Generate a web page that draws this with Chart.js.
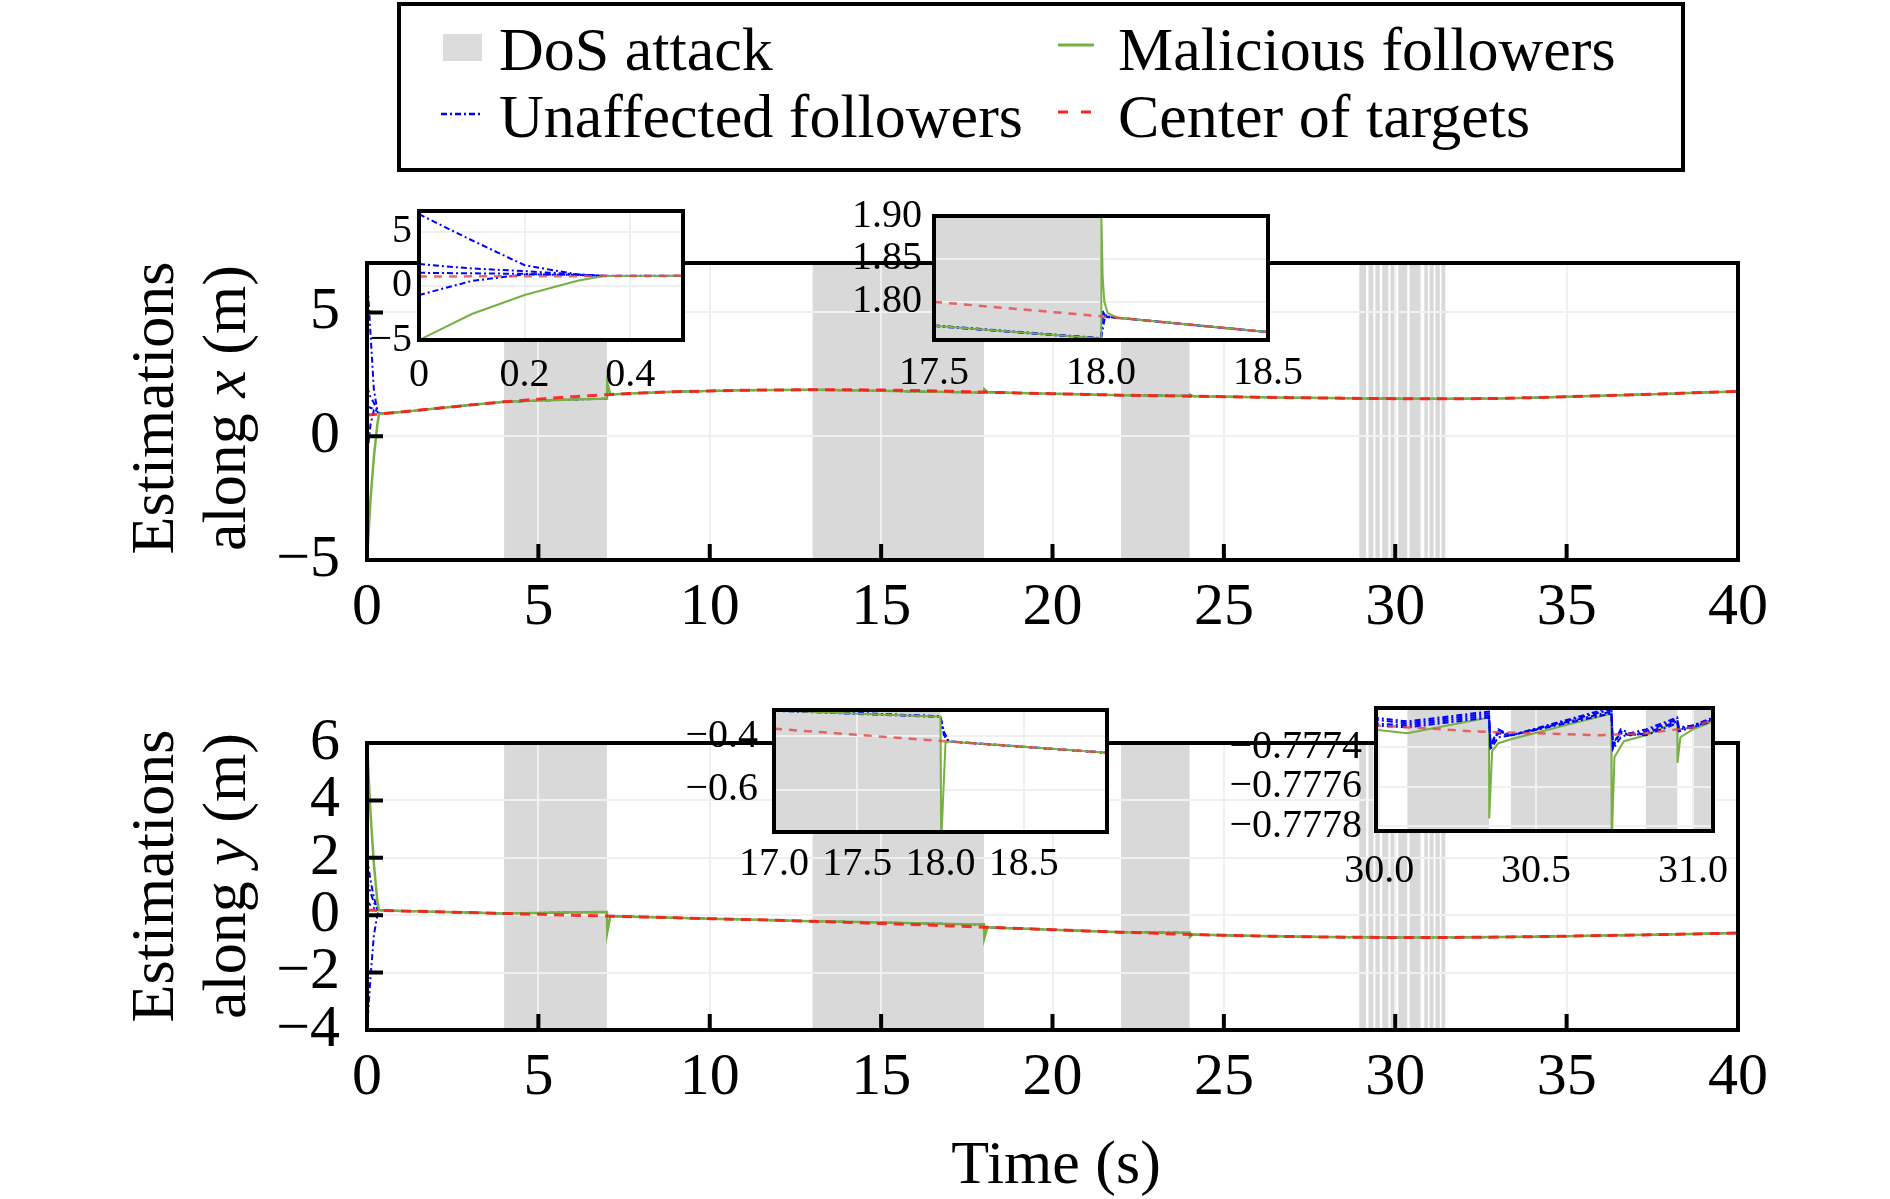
<!DOCTYPE html>
<html>
<head>
<meta charset="utf-8">
<script src="https://cdn.jsdelivr.net/npm/chart.js@4.4.1/dist/chart.umd.min.js"></script>
<style>
  html, body { margin: 0; padding: 0; background: #fff; }
  body { width: 1890px; height: 1199px; position: relative; overflow: hidden; font-family: 'Liberation Serif', 'Times New Roman', serif; color: #000; }
  .abs { position: absolute; }
  .txt { position: absolute; font-size: 62px; line-height: 62px; white-space: nowrap; }
  .ytitle { position: absolute; width: 440px; height: 144px; margin-left: -220px; margin-top: -72px; transform: rotate(-90deg); text-align: center; font-size: 62px; line-height: 72px; white-space: nowrap; }
</style>
</head>
<body>
<!-- legend -->
<div class="abs" style="left:397px;top:2px;width:1280px;height:162px;border:4px solid #000;"></div>
<div class="abs" style="left:443px;top:34px;width:39px;height:27px;background:#dcdcdc;"></div>
<div class="txt" style="left:499px;top:18px;">DoS attack</div>
<svg class="abs" style="left:1058px;top:40px;" width="36" height="10"><line x1="0" y1="5" x2="36" y2="5" stroke="#77b043" stroke-width="3"/></svg>
<div class="txt" style="left:1118px;top:18px;">Malicious followers</div>
<svg class="abs" style="left:441px;top:109px;" width="39" height="10"><line x1="0" y1="5" x2="39" y2="5" stroke="#0000ff" stroke-width="2.5" stroke-dasharray="6,3,2,3"/></svg>
<div class="txt" style="left:499px;top:85px;">Unaffected followers</div>
<svg class="abs" style="left:1058px;top:107px;" width="36" height="10"><line x1="0" y1="5" x2="36" y2="5" stroke="#ff2020" stroke-width="3" stroke-dasharray="10,13"/></svg>
<div class="txt" style="left:1118px;top:85px;">Center of targets</div>

<!-- axis titles -->
<div class="ytitle" style="left:188px;top:408px;">Estimations<br>along <i>x</i> (m)</div>
<div class="ytitle" style="left:188px;top:876px;">Estimations<br>along <i>y</i> (m)</div>
<div class="txt" style="left:856px;top:1131px;width:400px;text-align:center;">Time (s)</div>

<script>
// ---------------- DATA ----------------
// DoS attack intervals (s)
const dosIntervals = [[4,7],[13,18],[22,24],[28.95,29.15],[29.22,29.36],[29.42,29.55],[29.62,29.8],[29.86,29.98],
  [30.09,30.35],[30.42,30.74],[30.85,30.95],[31.0,31.12],[31.17,31.3],[31.35,31.46]];

// main plots: time samples
const tMain = [0,0.1,0.2,0.3,0.35,1,2,3,4,5,6,7,7.01,7.1,8,9,10,11,12,13,14,15,16,17,18,18.01,18.1,19,20,21,22,23,24,24.01,24.1,25,26,27,28,29,30,31,32,33,34,35,36,37,38,39,40];
const tInit = [0,0.1,0.2,0.3,0.35];

// estimations along x
const centerX = [0.86,0.87,0.88,0.89,0.9,0.98,1.12,1.26,1.39,1.5,1.6,1.68,1.68,1.69,1.75,1.8,1.83,1.86,1.87,1.88,1.88,1.87,1.85,1.82,1.783,1.783,1.78,1.75,1.72,1.69,1.66,1.64,1.62,1.62,1.618,1.6,1.58,1.56,1.545,1.53,1.52,1.515,1.515,1.53,1.56,1.6,1.64,1.68,1.72,1.77,1.81];
const maliciousX = [-5,-2.6,-0.85,0.46,0.9,0.98,1.12,1.26,1.39,1.44,1.48,1.52,2.15,1.69,1.75,1.8,1.83,1.86,1.87,1.88,1.86,1.835,1.81,1.785,1.757,1.9,1.78,1.75,1.72,1.69,1.66,1.645,1.63,1.68,1.618,1.6,1.58,1.56,1.545,1.53,1.52,1.515,1.515,1.53,1.56,1.6,1.64,1.68,1.72,1.77,1.81];
const unaffectedX1 = [6.6,4.2,1.9,1.05,0.92,0.98,1.12,1.26,1.39,1.44,1.48,1.52,1.68,1.69,1.75,1.8,1.83,1.86,1.87,1.88,1.86,1.835,1.81,1.785,1.757,1.79,1.78,1.75,1.72,1.69,1.66,1.645,1.63,1.62,1.618,1.6,1.58,1.56,1.545,1.53,1.52,1.515,1.515,1.53,1.56,1.6,1.64,1.68,1.72,1.77,1.81];
const unaffectedX2 = [2.0,1.6,1.35,1.05,0.92];
const unaffectedX3 = [1.2,1.15,1.1,1.0,0.91];
const unaffectedX4 = [-0.85,0.45,1.05,1.0,0.91];

// estimations along y
const centerY = [0.17,0.17,0.169,0.168,0.167,0.15,0.12,0.09,0.06,0.03,0.0,-0.03,-0.03,-0.033,-0.06,-0.09,-0.12,-0.15,-0.18,-0.21,-0.25,-0.29,-0.33,-0.372,-0.4175,-0.418,-0.422,-0.462,-0.505,-0.55,-0.59,-0.63,-0.67,-0.67,-0.673,-0.7,-0.725,-0.745,-0.76,-0.771,-0.7773,-0.7773,-0.772,-0.762,-0.748,-0.73,-0.71,-0.69,-0.67,-0.645,-0.62];
const maliciousY = [6.0,3.6,1.8,0.5,0.17,0.15,0.12,0.09,0.06,0.08,0.1,0.11,-0.6,-0.035,-0.06,-0.09,-0.12,-0.15,-0.18,-0.21,-0.232,-0.255,-0.28,-0.304,-0.327,-0.8,-0.422,-0.462,-0.505,-0.55,-0.59,-0.6,-0.61,-0.75,-0.673,-0.7,-0.725,-0.745,-0.76,-0.771,-0.7773,-0.7773,-0.772,-0.762,-0.748,-0.73,-0.71,-0.69,-0.67,-0.645,-0.62];
const unaffectedY1 = [2.0,1.25,0.6,0.25,0.17,0.15,0.12,0.09,0.06,0.08,0.1,0.11,-0.03,-0.033,-0.06,-0.09,-0.12,-0.15,-0.18,-0.21,-0.232,-0.255,-0.28,-0.304,-0.327,-0.418,-0.422,-0.462,-0.505,-0.55,-0.59,-0.6,-0.61,-0.67,-0.673,-0.7,-0.725,-0.745,-0.76,-0.771,-0.7773,-0.7773,-0.772,-0.762,-0.748,-0.73,-0.71,-0.69,-0.67,-0.645,-0.62];
const unaffectedY2 = [1.2,0.8,0.45,0.22,0.17];
const unaffectedY3 = [0.5,0.35,0.25,0.19,0.17];
const unaffectedY4 = [-4.0,-2.2,-0.7,0.0,0.17];

// inset (x, 17.5 - 18.5 s)
const i2CenterT = [17.5,18.0,18.5];
const i2CenterX = [1.8,1.7833,1.7648];
const i2MalT = [17.5,18.0,18.001,18.005,18.01,18.02,18.05,18.5];
const i2MalX = [1.7722,1.7574,1.9,1.83,1.8,1.787,1.7815,1.7648];
const i2Un1T = [17.5,18.0,18.004,18.012,18.05,18.5];
const i2Un1X = [1.7722,1.7574,1.79,1.7835,1.7815,1.7648];
const i2Un2T = [17.5,18.0,18.012,18.05,18.5];
const i2Un2X = [1.7718,1.757,1.7828,1.7815,1.7648];
const i2Un3T = [17.5,18.0,18.007,18.02,18.05,18.5];
const i2Un3X = [1.7726,1.7578,1.7875,1.7822,1.7815,1.7648];

// inset (y, 17 - 19 s)
const i3CenterT = [17,18,19];
const i3CenterY = [-0.372,-0.4175,-0.462];
const i3MalT = [17,18,18.004,18.03,18.05,19];
const i3MalY = [-0.304,-0.327,-0.8,-0.425,-0.4197,-0.462];
const i3Un1T = [17,18,18.02,18.05,19];
const i3Un1Y = [-0.302,-0.325,-0.395,-0.4197,-0.462];
const i3Un2T = [17,18,18.03,18.05,19];
const i3Un2Y = [-0.305,-0.328,-0.41,-0.4197,-0.462];
const i3Un3T = [17,18,18.01,18.05,19];
const i3Un3Y = [-0.303,-0.326,-0.37,-0.4197,-0.462];

// inset (y, 30 - 31 s)
const i4CenterT = [29.98,30.1,30.3,30.5,30.7,30.85,31.0,31.08];
const i4CenterY = [-0.77729,-0.7773,-0.77732,-0.77733,-0.77734,-0.77733,-0.7773,-0.77725];
const i4MalT = [29.98,30.09,30.35,30.351,30.36,30.38,30.42,30.74,30.741,30.75,30.78,30.85,30.95,30.951,30.96,31.0,31.08];
const i4MalY = [-0.77731,-0.77733,-0.77725,-0.77776,-0.77742,-0.77738,-0.77736,-0.77723,-0.7779,-0.77745,-0.77737,-0.77734,-0.77727,-0.77748,-0.77735,-0.77731,-0.77726];
const i4UnT = [29.98,30.09,30.35,30.355,30.38,30.42,30.74,30.745,30.77,30.8,30.85,30.95,30.955,31.0,31.08];
const i4Un1Y = [-0.77725,-0.77727,-0.77722,-0.77739,-0.77731,-0.77734,-0.7772,-0.77739,-0.77731,-0.77733,-0.77731,-0.77725,-0.7773,-0.77729,-0.77724];
const i4Un2Y = [-0.77726,-0.77728,-0.77723,-0.7774,-0.77732,-0.77734,-0.77721,-0.7774,-0.77732,-0.77734,-0.77732,-0.77726,-0.77731,-0.77729,-0.77725];
const i4Un3Y = [-0.77728,-0.77729,-0.77724,-0.77738,-0.77733,-0.77734,-0.77722,-0.77738,-0.77733,-0.77734,-0.77733,-0.77727,-0.77731,-0.7773,-0.77725];
const i4Un4Y = [-0.77729,-0.7773,-0.77725,-0.77741,-0.77735,-0.77734,-0.77723,-0.77741,-0.77735,-0.77733,-0.77734,-0.77728,-0.77732,-0.7773,-0.77726];

// tick values
const mainXTicks = [0,5,10,15,20,25,30,35,40];
const topYTicks = [-5,0,5];
const botYTicks = [-4,-2,0,2,4,6];
const in1XTicks = [0,0.2,0.4];
const in1YTicks = [-5,0,5];
const in2XTicks = [17.5,18.0,18.5];
const in2YTicks = [1.80,1.85,1.90];
const in3XTicks = [17.0,17.5,18.0,18.5];
const in3YTicks = [-0.6,-0.4];
const in4XTicks = [30.0,30.5,31.0];
const in4YTicks = [-0.7778,-0.7776,-0.7774];

// ---------------- STYLE / HELPERS ----------------
const FONT = "'Liberation Serif', 'Times New Roman', serif";
const C_DOS = '#d9d9d9', C_GREEN = '#77b043', C_BLUE = '#0000ff';
const C_RED = 'rgba(255,20,20,0.85)', C_RED_IN = 'rgba(228,70,70,0.8)', C_GRID = '#f0f0f0';
Chart.defaults.font.family = FONT;
Chart.defaults.color = '#000';

// dec < 0 means: plain zero, otherwise |dec| decimals
function fmt(v, dec) {
  if (Math.abs(v) < 1e-12) v = 0;
  if (dec < 0) return v === 0 ? '0' : v.toFixed(-dec).replace('-', '\u2212');
  return v.toFixed(dec).replace('-', '\u2212');
}
function pts(xs, ys) { return xs.map((x, i) => ({ x: x, y: ys[i] })); }
function ds(xs, ys, kind, inset) {
  const base = { data: pts(xs, ys), showLine: true, pointRadius: 0, pointHoverRadius: 0, fill: false, tension: 0 };
  if (kind === 'center') return Object.assign(base, { label: 'Center of targets', borderColor: inset ? C_RED_IN : C_RED, borderWidth: inset ? 2.5 : 3, borderDash: inset ? [8, 7] : [10, 7] });
  if (kind === 'unaff') return Object.assign(base, { label: 'Unaffected followers', borderColor: C_BLUE, borderWidth: 2, borderDash: [6, 3, 2, 3] });
  return Object.assign(base, { label: 'Malicious followers', borderColor: C_GREEN, borderWidth: inset ? 2 : 2.5 });
}
function axis(isX, min, max, ticks, dec, fontSize, pad, size) {
  return {
    type: 'linear', position: isX ? 'bottom' : 'left', min: min, max: max,
    afterBuildTicks: s => { s.ticks = ticks.map(v => ({ value: v })); },
    afterFit: s => { if (isX) s.height = size; else s.width = size; },
    ticks: { callback: v => fmt(v, dec), font: { size: fontSize, family: FONT }, color: '#000', padding: pad, autoSkip: false, maxRotation: 0, minRotation: 0 },
    grid: { color: C_GRID, lineWidth: 2, drawTicks: false },
    border: { display: false }
  };
}
const decor = {
  id: 'decor',
  beforeDraw(chart) {
    const a = chart.chartArea, ctx = chart.ctx, xs = chart.scales.x;
    ctx.save();
    ctx.fillStyle = '#fff';
    ctx.fillRect(a.left, a.top, a.right - a.left, a.bottom - a.top);
    ctx.beginPath(); ctx.rect(a.left, a.top, a.right - a.left, a.bottom - a.top); ctx.clip();
    ctx.fillStyle = C_DOS;
    for (const iv of dosIntervals) {
      const x0 = xs.getPixelForValue(iv[0]), x1 = xs.getPixelForValue(iv[1]);
      ctx.fillRect(x0, a.top, x1 - x0, a.bottom - a.top);
    }
    ctx.restore();
  },
  afterDraw(chart, args, opts) {
    const a = chart.chartArea, ctx = chart.ctx, xs = chart.scales.x, ys = chart.scales.y;
    ctx.save();
    ctx.strokeStyle = '#000';
    ctx.lineWidth = 4;
    if (opts.ticks) {
      ctx.beginPath();
      for (const t of xs.ticks) { const p = xs.getPixelForValue(t.value); ctx.moveTo(p, a.bottom); ctx.lineTo(p, a.bottom - 16); }
      for (const t of ys.ticks) { const p = ys.getPixelForValue(t.value); ctx.moveTo(a.left, p); ctx.lineTo(a.left + 16, p); }
      ctx.stroke();
    }
    ctx.strokeRect(a.left, a.top, a.right - a.left, a.bottom - a.top);
    ctx.restore();
  }
};
function makeChart(g, xAx, yAx, datasets, withTicks, z) {
  const c = document.createElement('canvas');
  c.width = g.w; c.height = g.h;
  c.style.cssText = 'position:absolute;left:' + g.left + 'px;top:' + g.top + 'px;width:' + g.w + 'px;height:' + g.h + 'px;z-index:' + z + ';';
  document.body.appendChild(c);
  return new Chart(c.getContext('2d'), {
    type: 'scatter',
    data: { datasets: datasets },
    options: {
      responsive: false, animation: false, devicePixelRatio: 1,
      layout: { padding: g.pad },
      plugins: { legend: { display: false }, tooltip: { enabled: false }, decor: { ticks: withTicks } },
      scales: { x: xAx, y: yAx }
    },
    plugins: [decor]
  });
}

// dataset order: first is drawn on top (center, then malicious, then unaffected)
function setX(inset) {
  return [
    ds(tMain, centerX, 'center', inset),
    ds(tMain, maliciousX, 'mal', inset),
    ds(tMain, unaffectedX1, 'unaff', inset),
    ds(tInit, unaffectedX2, 'unaff', inset),
    ds(tInit, unaffectedX3, 'unaff', inset),
    ds(tInit, unaffectedX4, 'unaff', inset)
  ];
}
function setY(inset) {
  return [
    ds(tMain, centerY, 'center', inset),
    ds(tMain, maliciousY, 'mal', inset),
    ds(tMain, unaffectedY1, 'unaff', inset),
    ds(tInit, unaffectedY2, 'unaff', inset),
    ds(tInit, unaffectedY3, 'unaff', inset),
    ds(tInit, unaffectedY4, 'unaff', inset)
  ];
}

// ---------------- MAIN PLOTS ----------------
makeChart({ left: 0, top: 200, w: 1890, h: 450, pad: { left: 0, top: 58, right: 152, bottom: 0 } },
  axis(true, 0, 40, mainXTicks, 0, 60, 12, 90),
  axis(false, -5, 7, topYTicks, 0, 60, 27, 367),
  setX(false), true, 1);

makeChart({ left: 0, top: 680, w: 1890, h: 420, pad: { left: 0, top: 48, right: 152, bottom: 0 } },
  axis(true, 0, 40, mainXTicks, 0, 60, 12, 70),
  axis(false, -4, 6, botYTicks, 0, 60, 27, 367),
  setY(false), true, 1);

// ---------------- INSETS ----------------
makeChart({ left: 340, top: 180, w: 360, h: 230, pad: { left: 0, top: 30, right: 17, bottom: 0 } },
  axis(true, 0, 0.5, in1XTicks, -1, 40, 11, 70),
  axis(false, -5, 6.9, in1YTicks, 0, 40, 7, 79),
  setX(true), false, 5);

makeChart({ left: 830, top: 180, w: 483, h: 230, pad: { left: 0, top: 30, right: 45, bottom: 0 } },
  axis(true, 17.5, 18.5, in2XTicks, 1, 40, 9, 70),
  axis(false, 1.7556, 1.9, in2YTicks, 2, 40, 12, 104),
  [ds(i2CenterT, i2CenterX, 'center', true), ds(i2MalT, i2MalX, 'mal', true), ds(i2Un1T, i2Un1X, 'unaff', true),
   ds(i2Un2T, i2Un2X, 'unaff', true), ds(i2Un3T, i2Un3X, 'unaff', true)], false, 5);

makeChart({ left: 650, top: 670, w: 490, h: 230, pad: { left: 0, top: 32, right: 33, bottom: 0 } },
  axis(true, 17, 19, in3XTicks, 1, 40, 8, 68),
  axis(false, -0.758, -0.302, in3YTicks, 1, 40, 16, 124),
  [ds(i3CenterT, i3CenterY, 'center', true), ds(i3MalT, i3MalY, 'mal', true), ds(i3Un1T, i3Un1Y, 'unaff', true),
   ds(i3Un2T, i3Un2Y, 'unaff', true), ds(i3Un3T, i3Un3Y, 'unaff', true)], false, 5);

makeChart({ left: 1190, top: 670, w: 580, h: 230, pad: { left: 0, top: 32, right: 57, bottom: 0 } },
  axis(true, 29.99, 31.064, in4XTicks, 1, 40, 16, 69),
  axis(false, -0.777824, -0.777202, in4YTicks, 4, 40, 14, 186),
  [ds(i4CenterT, i4CenterY, 'center', true), ds(i4UnT, i4Un1Y, 'unaff', true), ds(i4UnT, i4Un2Y, 'unaff', true),
   ds(i4UnT, i4Un3Y, 'unaff', true), ds(i4UnT, i4Un4Y, 'unaff', true), ds(i4MalT, i4MalY, 'mal', true)], false, 5);
</script>
</body>
</html>
